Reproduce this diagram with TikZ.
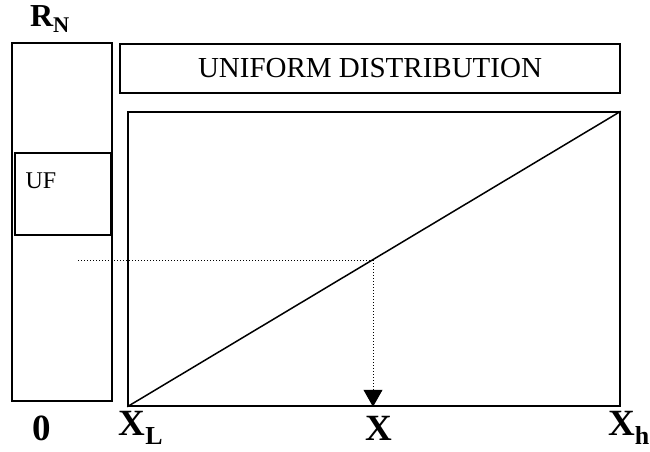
\documentclass[tikz,border=0pt]{standalone}
\usepackage{fontspec}
\setmainfont{Liberation Serif}
\usepackage{tikz}
\usetikzlibrary{positioning, arrows.meta}

\begin{document}
\begin{tikzpicture}[x=1pt, y=-1pt,
      pbox/.style={draw=black, line width=1.5pt, rectangle, inner sep=0pt},
      axlab/.style={font=\fontsize{37}{40}\selectfont\bfseries},
      arr/.style={-{Triangle[length=17pt, width=19pt]}, line width=1pt, dotted}
    ]
    \useasboundingbox (0,0) rectangle (650,451);

    % left column and its inner box
    \node[pbox, minimum width=100pt, minimum height=358pt] (col) at (62,222) {};
    \node[pbox, minimum width=96pt, minimum height=82pt] (uf) at (63,194) {};
    \node[font=\fontsize{24}{27}\selectfont] (uflab) at (41,181) {UF};

    % title bar and plot frame
    \node[pbox, minimum width=500pt, minimum height=49pt] (title) at (370,68.5)
          {\fontsize{29}{32}\selectfont UNIFORM DISTRIBUTION};
    \node[pbox, minimum width=492pt, minimum height=294pt] (plot) at (374,259) {};

    \draw[line width=1.5pt] (plot.south west) -- (plot.north east);

    % reading the value off the line
    \coordinate (hit) at (373,260);
    \coordinate (rn) at (78,260);
    \draw[line width=1pt, dotted] (rn) -- (hit);
    \draw[arr] (hit) -- (hit |- plot.south);

    % labels
    \node[font=\fontsize{32}{34}\selectfont\bfseries] (rnlab) at (50,19) {R\textsubscript{N}};
    \node[axlab] (zero) at (42,428) {0};
    \foreach \x/\t/\n in {141/X\textsubscript{L}/xl, 379/X/xx, 629/X\textsubscript{h}/xh}{
      \node[axlab] (\n) at (\x,428) {\t};
    }
  \end{tikzpicture}
\end{document}
